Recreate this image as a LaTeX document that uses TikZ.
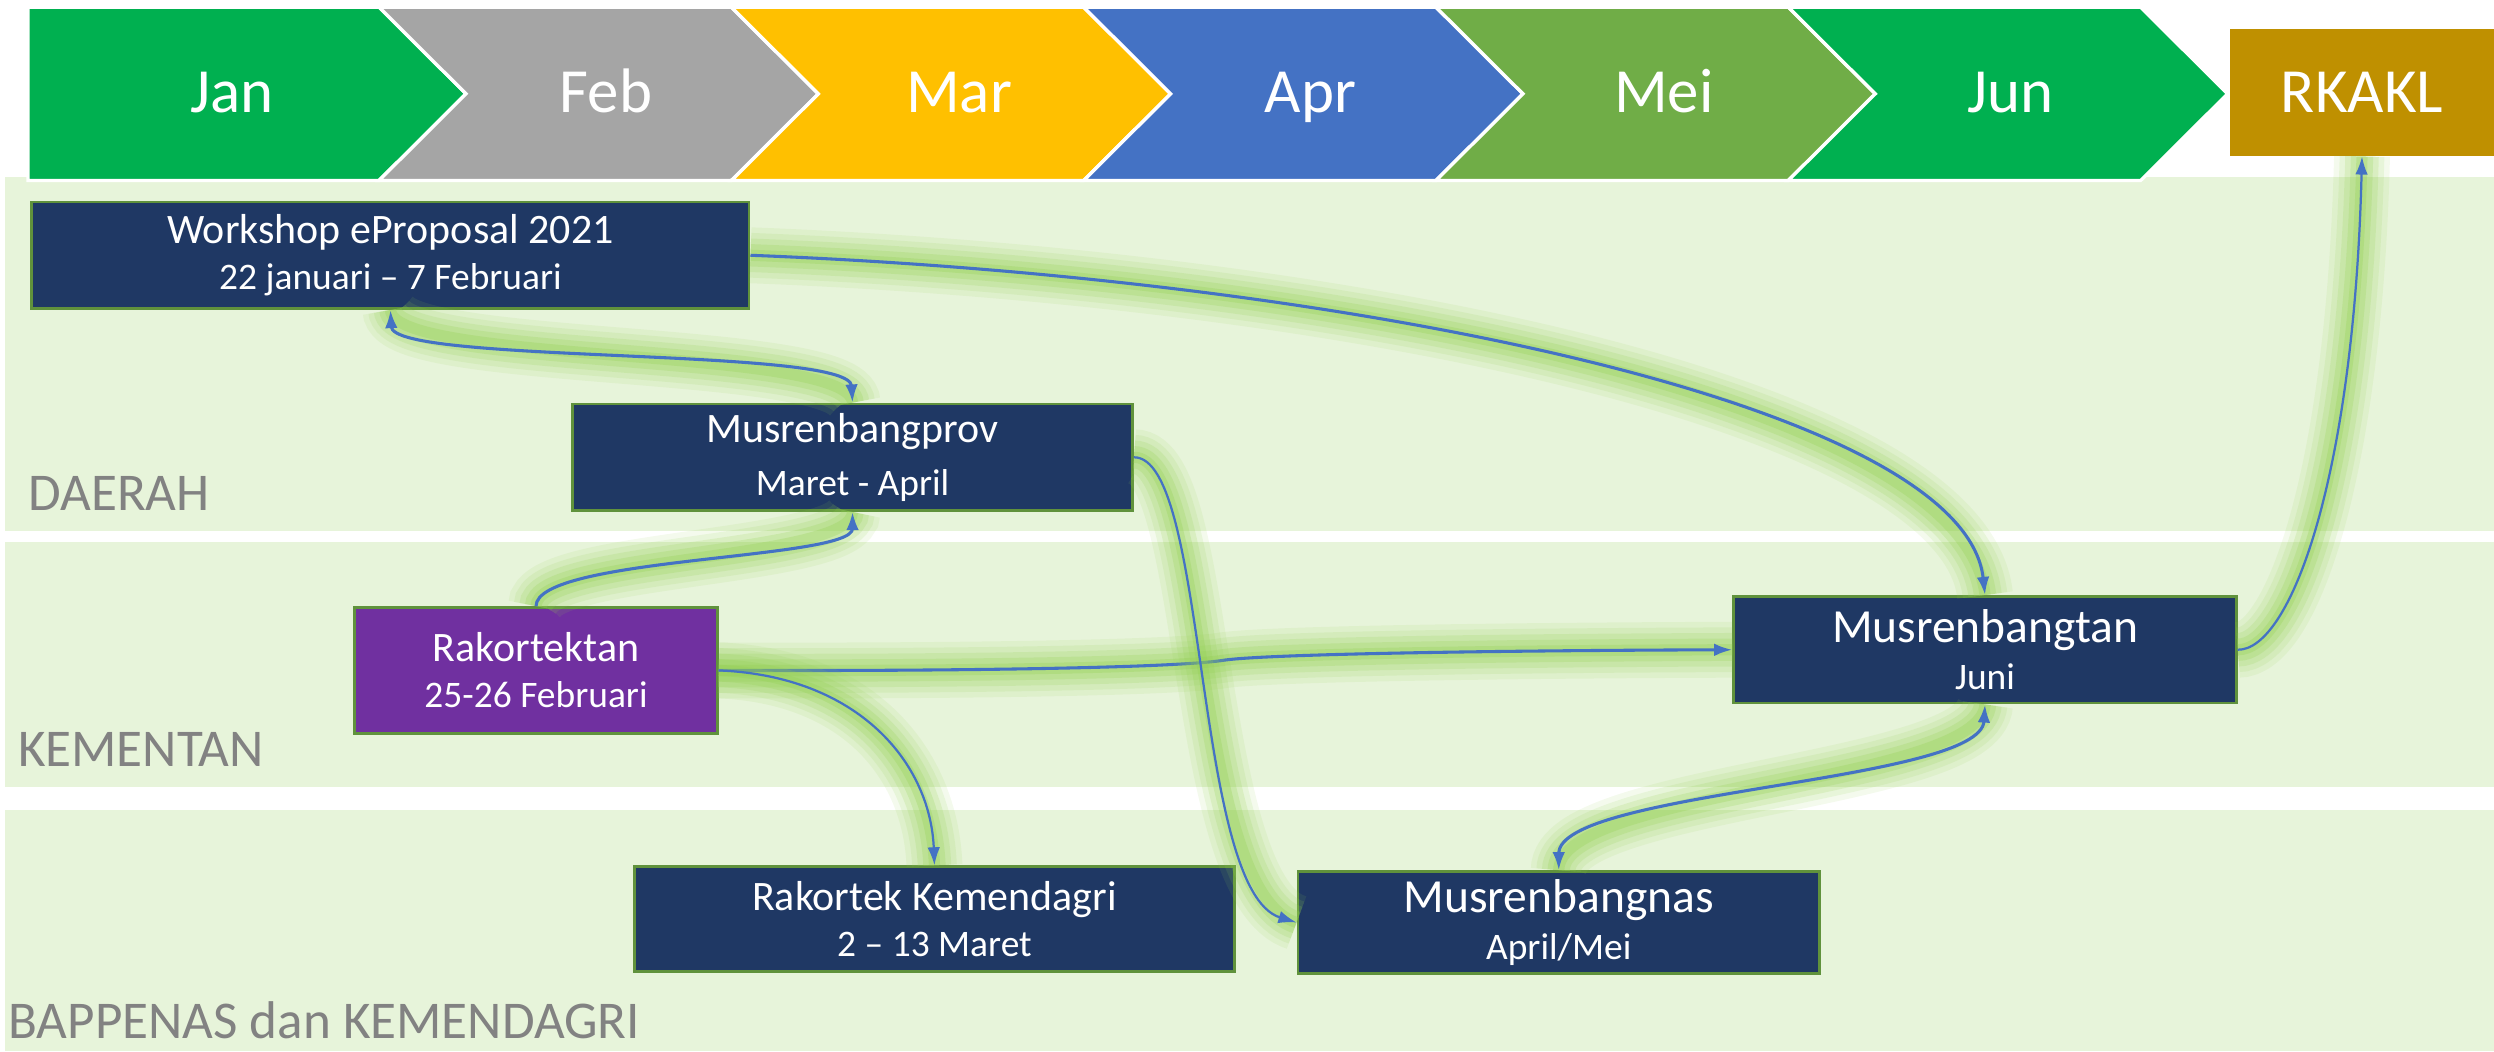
\documentclass[tikz,border=0pt]{standalone}
\usepackage{fontspec}
\setmainfont{Carlito}
\usepackage{tikz}
\usetikzlibrary{arrows.meta,positioning}
\definecolor{jangreen}{RGB}{0,176,80}
\definecolor{febgray}{RGB}{165,165,165}
\definecolor{maryellow}{RGB}{255,192,0}
\definecolor{aprblue}{RGB}{68,114,196}
\definecolor{meigreen}{RGB}{112,173,71}
\definecolor{rkgold}{RGB}{191,144,0}
\definecolor{lanefill}{RGB}{231,244,218}
\definecolor{navy}{RGB}{31,56,100}
\definecolor{plum}{RGB}{112,48,160}
\definecolor{boxline}{RGB}{96,146,60}
\definecolor{linkblue}{RGB}{68,114,196}
\definecolor{glowgreen}{RGB}{146,208,80}
\definecolor{lanegray}{RGB}{130,130,130}
\newcommand{\subtxt}[1]{{\fontsize{13.4}{16.5}\selectfont #1}}
\tikzstyle{chev} = [draw=white, line width=1.2pt, line join=miter]
\tikzstyle{month} = [text=white, anchor=base, inner sep=0pt, font=\fontsize{22.5}{26}\selectfont]
\tikzstyle{lane} = [text=lanegray, anchor=base west, inner sep=0pt, font=\fontsize{19}{22}\selectfont]
\tikzstyle{event} = [rectangle, draw=boxline, line width=1pt, fill=navy, text=white, align=center, inner sep=0pt, font=\fontsize{15}{16.5}\selectfont]
\tikzstyle{bigevent} = [event, font=\fontsize{17}{17}\selectfont]
\tikzstyle{glow} = [preaction={draw=glowgreen, line width=20pt, opacity=.1, arrows=-},
                    preaction={draw=glowgreen, line width=16pt, opacity=.13, arrows=-},
                    preaction={draw=glowgreen, line width=12pt, opacity=.17, arrows=-},
                    preaction={draw=glowgreen, line width=8pt, opacity=.22, arrows=-},
                    preaction={draw=glowgreen, line width=4pt, opacity=.28, arrows=-}]
\tikzstyle{tedge} = [draw=linkblue, line width=1.1pt, >={Latex[length=6.5pt,width=4.5pt]}, ->, glow]
\tikzstyle{slim} = [line width=0.8pt]
\begin{document}
\begin{tikzpicture}[x=0.02cm, y=-0.02cm]
\useasboundingbox (0,0) rectangle (1568,661);

% lanes =============================
\fill[lanefill] (3,111) rectangle (1568,334);
\fill[lanefill] (3,341) rectangle (1568,495);
\fill[lanefill] (3,509) rectangle (1568,661);
\node[lane] (daerah) at (17.6,321) {DAERAH};
\node[lane] (kementan) at (11,482) {KEMENTAN};
\node[lane] (bappenas) at (5,653) {BAPPENAS dan KEMENDAGRI};

% months =============================
\filldraw[chev, fill=jangreen] (17.6,4.5) -- (238.3,4.5) -- (293,59) -- (238.3,113.5) -- (17.6,113.5) -- cycle;
\filldraw[chev, fill=febgray] (238.3,4.5) -- (459.8,4.5) -- (514.5,59) -- (459.8,113.5) -- (238.3,113.5) -- (293,59) -- cycle;
\filldraw[chev, fill=maryellow] (459.8,4.5) -- (681.3,4.5) -- (736,59) -- (681.3,113.5) -- (459.8,113.5) -- (514.5,59) -- cycle;
\filldraw[chev, fill=aprblue] (681.3,4.5) -- (902.8,4.5) -- (957.5,59) -- (902.8,113.5) -- (681.3,113.5) -- (736,59) -- cycle;
\filldraw[chev, fill=meigreen] (902.8,4.5) -- (1124.3,4.5) -- (1179,59) -- (1124.3,113.5) -- (902.8,113.5) -- (957.5,59) -- cycle;
\filldraw[chev, fill=jangreen] (1124.3,4.5) -- (1345.8,4.5) -- (1400.5,59) -- (1345.8,113.5) -- (1124.3,113.5) -- (1179,59) -- cycle;

\node[month] (jan) at (146,71) {Jan};
\node[month] (feb) at (381,71) {Feb};
\node[month] (mar) at (603,71) {Mar};
\node[month] (apr) at (824,71) {Apr};
\node[month] (mei) at (1046,71) {Mei};
\node[month] (jun) at (1264,71) {Jun};
\node[rectangle, fill=rkgold, text=white, inner sep=0pt, minimum width=3.32cm, minimum height=1.6cm, font=\fontsize{22.5}{26}\selectfont] (rkakl) at (1485,58) {RKAKL};

% events =============================
\node[event, minimum width=9.02cm, minimum height=1.34cm] (ws) at (245.5,160.5) {Workshop eProposal 2021\\\subtxt{22 januari – 7 Februari}};
\node[event, minimum width=7.04cm, minimum height=1.34cm] (prov) at (536,287.5) {Musrenbangprov\\[2.3pt]\subtxt{Maret - April}};
\node[event, fill=plum, minimum width=4.56cm, minimum height=1.58cm] (rak) at (337,421.5) {Rakortektan\\\subtxt{25-26 Februari}};
\node[event, minimum width=7.54cm, minimum height=1.32cm] (kem) at (587.5,578) {Rakortek Kemendagri\\\subtxt{2 – 13 Maret}};
\node[bigevent, minimum width=6.32cm, minimum height=1.34cm] (tan) at (1248,408.5) {Musrenbangtan\\\subtxt{Juni}};
\node[bigevent, minimum width=6.56cm, minimum height=1.28cm] (nas) at (980,580) {Musrenbangnas\\\subtxt{April/Mei}};

% edges
\draw[tedge] (ws.east) .. controls (850,175) and (1235,255) .. (tan.north);
\draw[tedge, <->] (ws.south) .. controls (247,229) and (534,218) .. (prov.north);
\draw[tedge] (rak.north) .. controls (337,350) and (536,352) .. (prov.south);
\draw[tedge] (rak.east) .. controls (600,422) and (740,420) .. (770,415) .. controls (800,411) and (950,409) .. (tan.west);
\draw[tedge, slim] (rak.east) .. controls (540,425) and (585,480) .. (kem.north);
\draw[tedge, slim] (prov.east) .. controls (760,287) and (750,560) .. (nas.west);
\draw[tedge, <->] (tan.south) .. controls (1245,492) and (980,497) .. (nas.north);
\draw[tedge, slim] (tan.east) .. controls (1440,409) and (1480,300) .. (rkakl.south);

\end{tikzpicture}
\end{document}
